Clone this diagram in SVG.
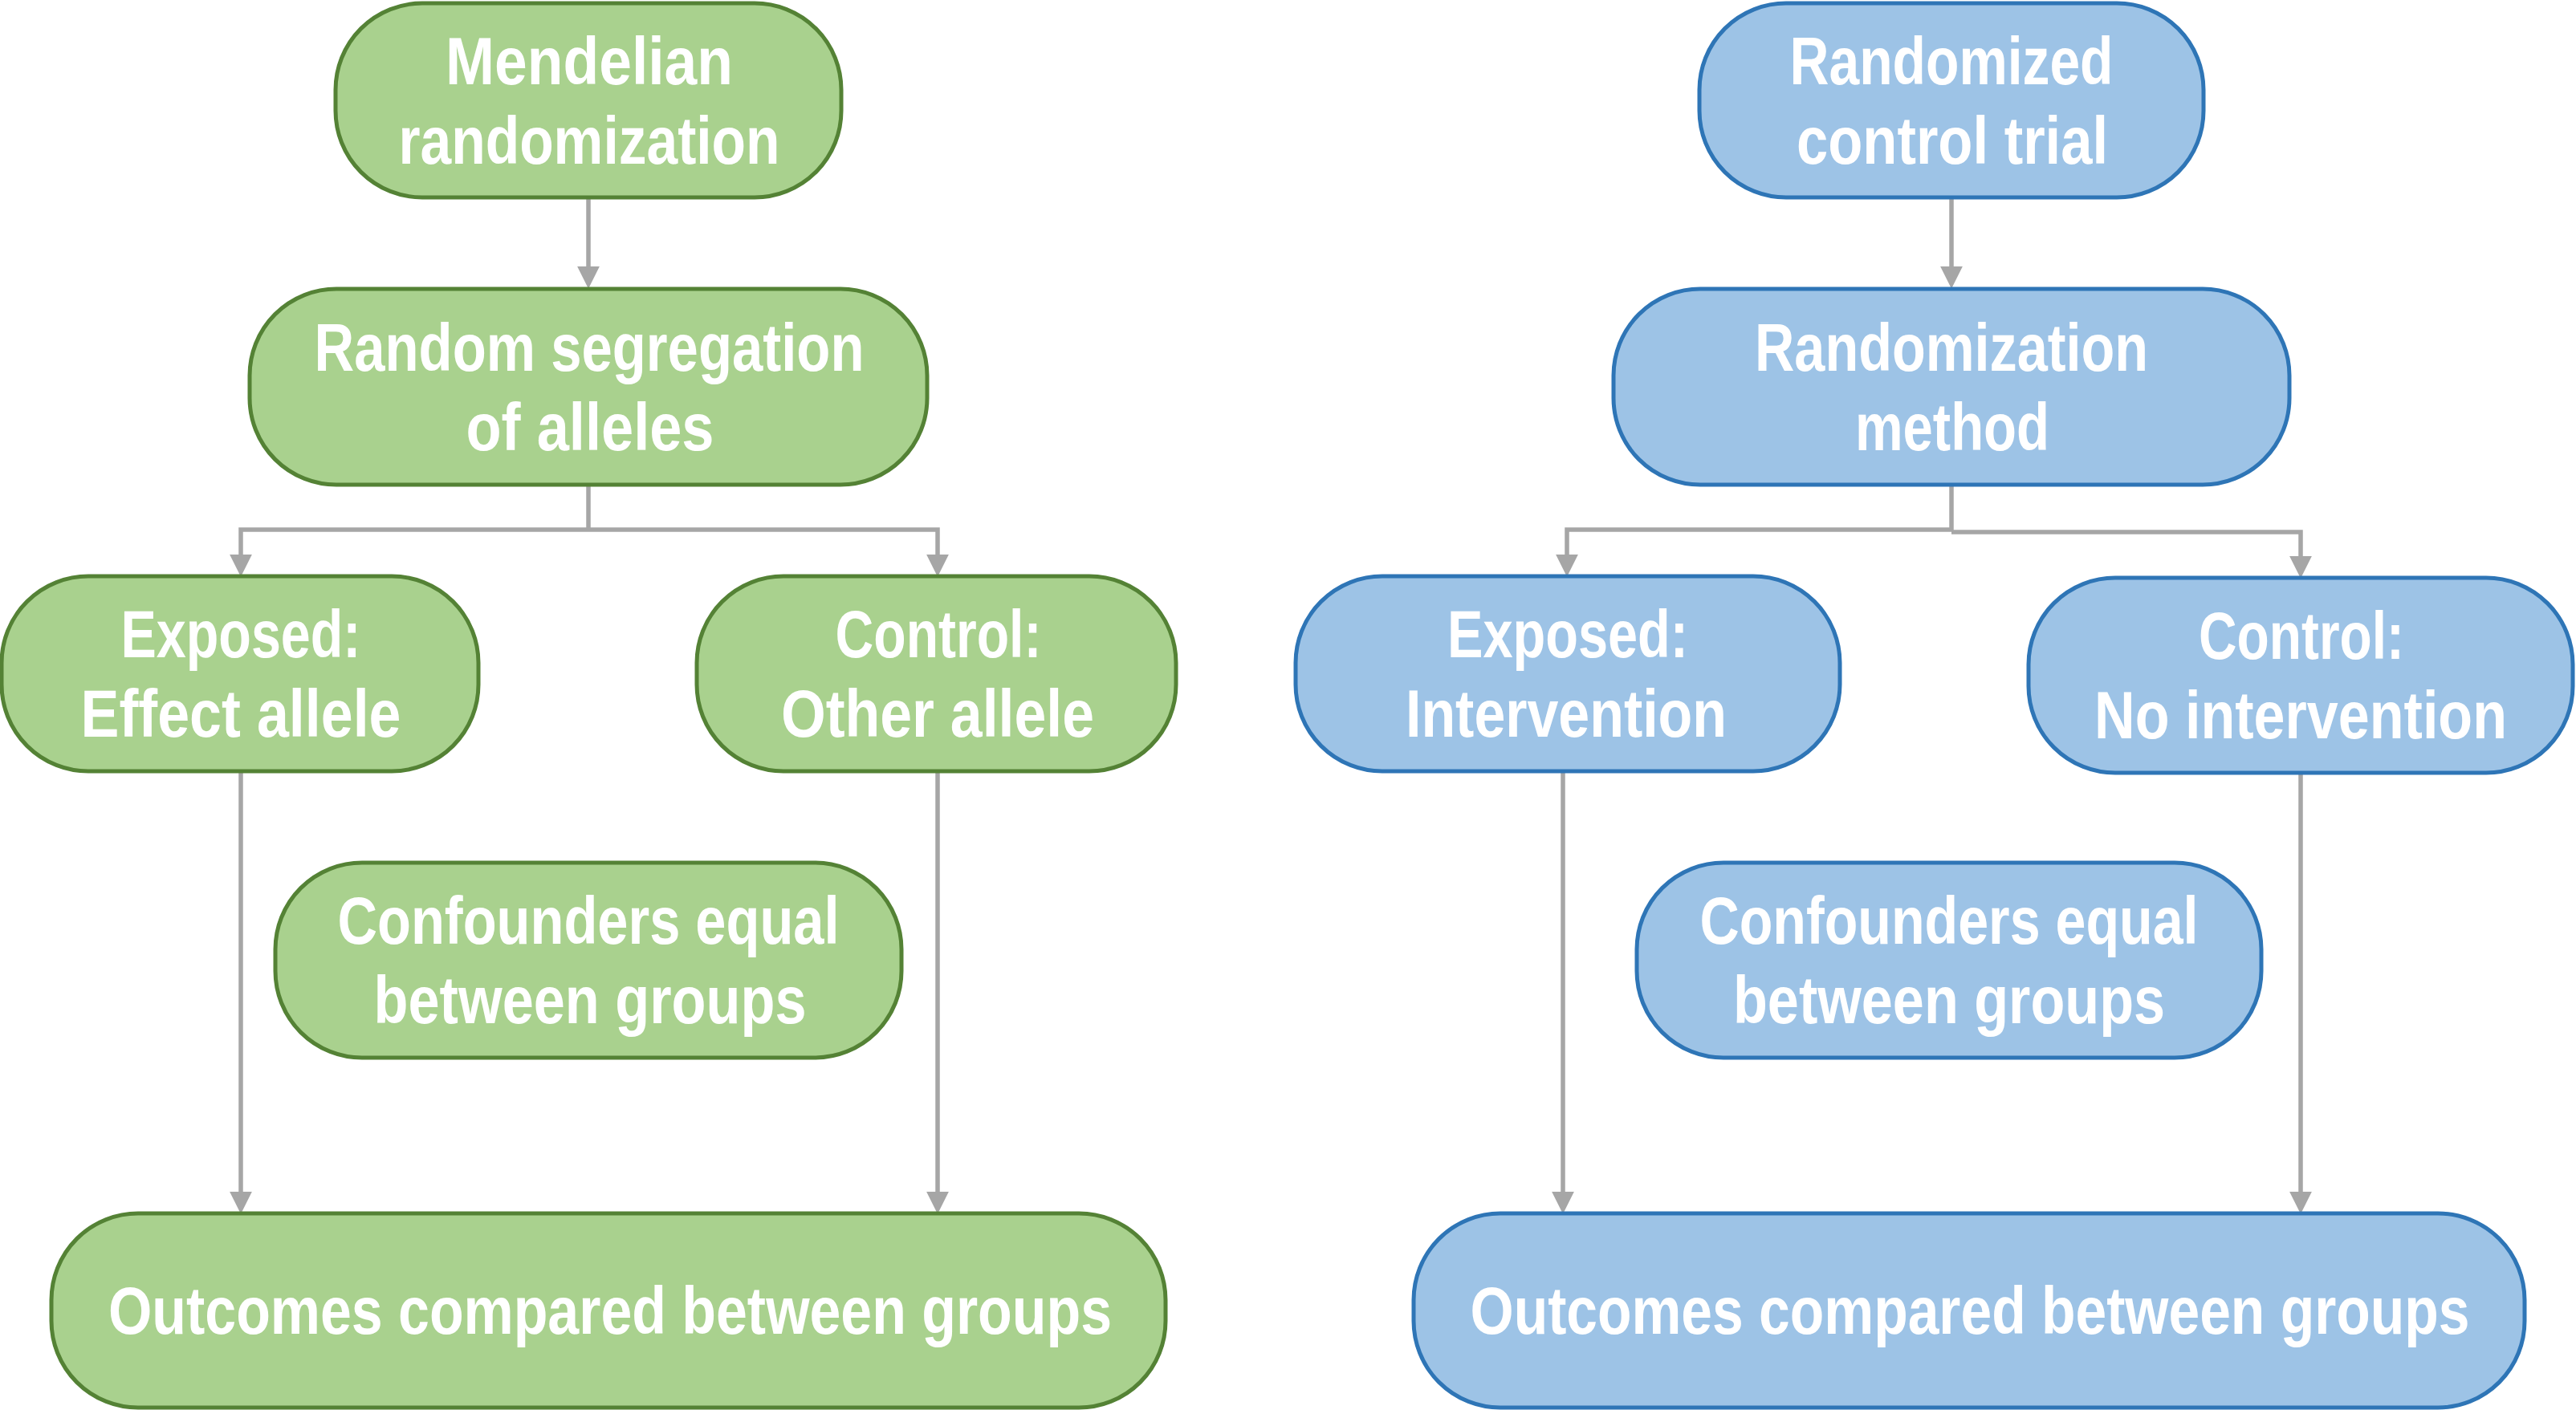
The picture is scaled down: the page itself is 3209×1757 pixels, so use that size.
<svg xmlns="http://www.w3.org/2000/svg" width="3209" height="1757" viewBox="0 0 3209 1757">
<style>
.g rect{fill:#A9D18E;stroke:#548235;stroke-width:5}
.b rect{fill:#9DC3E6;stroke:#2E75B6;stroke-width:5}
text{font-family:"Liberation Sans","Arial",sans-serif;font-weight:bold;font-size:84px;fill:#FFFFFF;text-anchor:middle}
.c{fill:none;stroke:#A6A6A6;stroke-width:5.5}
</style>
<defs>
<marker id="ah" markerUnits="userSpaceOnUse" markerWidth="28" markerHeight="28" viewBox="0 0 26 26" refX="16" refY="13" orient="auto">
<path d="M0,0 L26,13 L0,26 z" fill="#A6A6A6"/>
</marker>
</defs>
<rect width="3209" height="1757" fill="#FFFFFF"/>
<g id="connectors">
<path class="c" d="M733,246 V349" marker-end="url(#ah)"/>
<path class="c" d="M733,604 V660"/>
<path class="c" d="M733,660 H300 V708" marker-end="url(#ah)"/>
<path class="c" d="M733,660 H1168 V708" marker-end="url(#ah)"/>
<path class="c" d="M300,961 V1502" marker-end="url(#ah)"/>
<path class="c" d="M1168,961 V1502" marker-end="url(#ah)"/>
<path class="c" d="M2431,246 V349" marker-end="url(#ah)"/>
<path class="c" d="M2431,604 V662"/>
<path class="c" d="M2431,660 H1952 V708" marker-end="url(#ah)"/>
<path class="c" d="M2431,663 H2866 V710" marker-end="url(#ah)"/>
<path class="c" d="M1947,961 V1502" marker-end="url(#ah)"/>
<path class="c" d="M2866,963 V1502" marker-end="url(#ah)"/>
</g>
<g id="mr" class="g"><rect x="418" y="4" width="630" height="242" rx="108"/><text transform="translate(734,105) scale(0.82,1)" textLength="436.6" lengthAdjust="spacingAndGlyphs">Mendelian</text><text transform="translate(734,204) scale(0.82,1)" textLength="579.3" lengthAdjust="spacingAndGlyphs">randomization</text></g>
<g id="rsa" class="g"><rect x="311" y="360" width="844" height="244" rx="108"/><text transform="translate(734,462) scale(0.82,1)" textLength="835.4" lengthAdjust="spacingAndGlyphs">Random segregation</text><text transform="translate(735,561) scale(0.82,1)" textLength="376.8" lengthAdjust="spacingAndGlyphs">of alleles</text></g>
<g id="exp-l" class="g"><rect x="2" y="718" width="594" height="243" rx="108"/><text transform="translate(300,819) scale(0.82,1)" textLength="364.6" lengthAdjust="spacingAndGlyphs">Exposed:</text><text transform="translate(300,918) scale(0.82,1)" textLength="486.6" lengthAdjust="spacingAndGlyphs">Effect allele</text></g>
<g id="ctl-l" class="g"><rect x="868" y="718" width="597" height="243" rx="108"/><text transform="translate(1169,819) scale(0.82,1)" textLength="313.4" lengthAdjust="spacingAndGlyphs">Control:</text><text transform="translate(1168,918) scale(0.82,1)" textLength="475.6" lengthAdjust="spacingAndGlyphs">Other allele</text></g>
<g id="conf-l" class="g"><rect x="343" y="1075" width="780" height="243" rx="108"/><text transform="translate(733,1176) scale(0.82,1)" textLength="762.2" lengthAdjust="spacingAndGlyphs">Confounders equal</text><text transform="translate(735,1275) scale(0.82,1)" textLength="657.3" lengthAdjust="spacingAndGlyphs">between groups</text></g>
<g id="out-l" class="g"><rect x="64" y="1512" width="1388" height="242" rx="108"/><text transform="translate(760,1662) scale(0.82,1)" textLength="1524.4" lengthAdjust="spacingAndGlyphs">Outcomes compared between groups</text></g>
<g id="rct" class="b"><rect x="2117" y="4" width="628" height="242" rx="108"/><text transform="translate(2431,105) scale(0.82,1)" textLength="491.5" lengthAdjust="spacingAndGlyphs">Randomized</text><text transform="translate(2432,204) scale(0.82,1)" textLength="473.2" lengthAdjust="spacingAndGlyphs">control trial</text></g>
<g id="rm" class="b"><rect x="2010" y="360" width="842" height="244" rx="108"/><text transform="translate(2431,462) scale(0.82,1)" textLength="597.6" lengthAdjust="spacingAndGlyphs">Randomization</text><text transform="translate(2432,561) scale(0.82,1)" textLength="295.1" lengthAdjust="spacingAndGlyphs">method</text></g>
<g id="exp-r" class="b"><rect x="1614" y="718" width="678" height="243" rx="108"/><text transform="translate(1953,819) scale(0.82,1)" textLength="365.9" lengthAdjust="spacingAndGlyphs">Exposed:</text><text transform="translate(1951,918) scale(0.82,1)" textLength="487.8" lengthAdjust="spacingAndGlyphs">Intervention</text></g>
<g id="ctl-r" class="b"><rect x="2527" y="720" width="678" height="243" rx="108"/><text transform="translate(2867,821) scale(0.82,1)" textLength="312.2" lengthAdjust="spacingAndGlyphs">Control:</text><text transform="translate(2866,920) scale(0.82,1)" textLength="626.8" lengthAdjust="spacingAndGlyphs">No intervention</text></g>
<g id="conf-r" class="b"><rect x="2039" y="1075" width="778" height="243" rx="108"/><text transform="translate(2428,1176) scale(0.82,1)" textLength="757.3" lengthAdjust="spacingAndGlyphs">Confounders equal</text><text transform="translate(2428,1275) scale(0.82,1)" textLength="656.1" lengthAdjust="spacingAndGlyphs">between groups</text></g>
<g id="out-r" class="b"><rect x="1761" y="1512" width="1384" height="242" rx="108"/><text transform="translate(2454,1662) scale(0.82,1)" textLength="1518.3" lengthAdjust="spacingAndGlyphs">Outcomes compared between groups</text></g>
</svg>
